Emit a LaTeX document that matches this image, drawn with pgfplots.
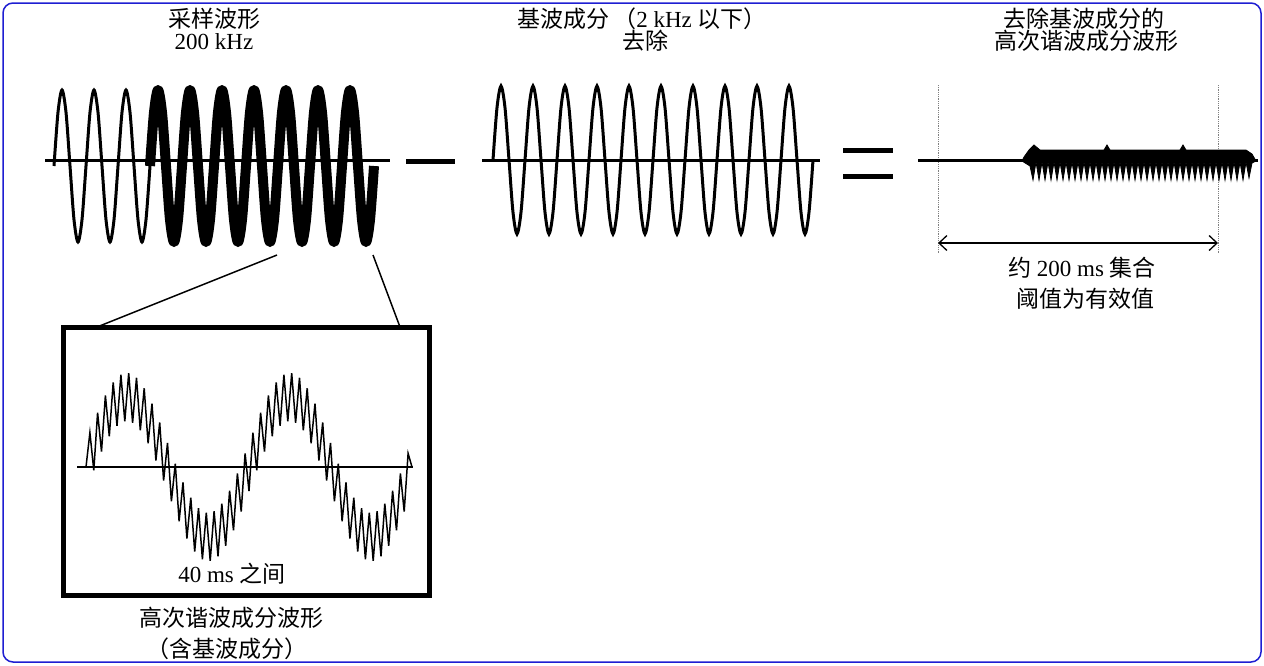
\documentclass[border=0pt]{standalone}
\usepackage{pgfplots}
\pgfplotsset{compat=1.18}
\usepackage{fontspec}
\setmainfont{Liberation Serif}
\newfontfamily\cjk{Noto Sans CJK SC}
\usetikzlibrary{arrows.meta}
\definecolor{frameblue}{RGB}{30,30,210}
\begin{document}
\begin{tikzpicture}
\begin{axis}[
  scale only axis, width=1264pt, height=665pt,
  xmin=0, xmax=1264, ymin=0, ymax=665, y dir=reverse,
  hide axis, clip=false,
]
\path (axis cs:0,0) rectangle (axis cs:1264,665);
\draw[frameblue, line width=1.5pt, rounded corners=10pt] (axis cs:3,3) rectangle (axis cs:1261,662);

% ---------- panel 1: sampled waveform ----------
\addplot[black, line width=3pt, no marks] coordinates {(45,160) (390,160)};
\addplot[black, line width=3pt, no marks, smooth] coordinates {
(54,166)(58,112.3)(62,90)(66,112.3)(70,166)(74,219.7)(78,242)(82,219.7)
(86,166)(90,112.3)(94,90)(98,112.3)(102,166)(106,219.7)(110,242)(114,219.7)
(118,166)(122,112.3)(126,90)(130,112.3)(134,166)(138,219.7)(142,242)(146,219.7)
(150,166)};
\addplot[black, line width=10pt, no marks, smooth, line join=round] coordinates {
(150,166)(154,112.3)(158,90)(162,112.3)(166,166)(170,219.7)(174,242)(178,219.7)
(182,166)(186,112.3)(190,90)(194,112.3)(198,166)(202,219.7)(206,242)(210,219.7)
(214,166)(218,112.3)(222,90)(226,112.3)(230,166)(234,219.7)(238,242)(242,219.7)
(246,166)(250,112.3)(254,90)(258,112.3)(262,166)(266,219.7)(270,242)(274,219.7)
(278,166)(282,112.3)(286,90)(290,112.3)(294,166)(298,219.7)(302,242)(306,219.7)
(310,166)(314,112.3)(318,90)(322,112.3)(326,166)(330,219.7)(334,242)(338,219.7)
(342,166)(346,112.3)(350,90)(354,112.3)(358,166)(362,219.7)(366,242)(370,219.7)
(374,166)};

% minus sign
\addplot[black, line width=5pt, no marks] coordinates {(406,161) (455,161)};

% ---------- panel 2: fundamental ----------
\addplot[black, line width=3pt, no marks] coordinates {(482,160) (820,160)};
\addplot[black, line width=3pt, no marks, smooth] coordinates {
(493,160)(497,107.7)(501,86)(505,107.7)(509,160)(513,212.3)(517,234)(521,212.3)
(525,160)(529,107.7)(533,86)(537,107.7)(541,160)(545,212.3)(549,234)(553,212.3)
(557,160)(561,107.7)(565,86)(569,107.7)(573,160)(577,212.3)(581,234)(585,212.3)
(589,160)(593,107.7)(597,86)(601,107.7)(605,160)(609,212.3)(613,234)(617,212.3)
(621,160)(625,107.7)(629,86)(633,107.7)(637,160)(641,212.3)(645,234)(649,212.3)
(653,160)(657,107.7)(661,86)(665,107.7)(669,160)(673,212.3)(677,234)(681,212.3)
(685,160)(689,107.7)(693,86)(697,107.7)(701,160)(705,212.3)(709,234)(713,212.3)
(717,160)(721,107.7)(725,86)(729,107.7)(733,160)(737,212.3)(741,234)(745,212.3)
(749,160)(753,107.7)(757,86)(761,107.7)(765,160)(769,212.3)(773,234)(777,212.3)
(781,160)(785,107.7)(789,86)(793,107.7)(797,160)(801,212.3)(805,234)(809,212.3)
(813,160)};

% equals sign
\addplot[black, line width=5pt, no marks] coordinates {(843,150) (893,150)};
\addplot[black, line width=5pt, no marks] coordinates {(843,176) (893,176)};

% ---------- panel 3: harmonic residue ----------
\draw[gray, densely dotted, line width=0.8pt] (axis cs:938,85) -- (axis cs:938,253);
\draw[gray, densely dotted, line width=0.8pt] (axis cs:1218,85) -- (axis cs:1218,253);
\addplot[black, line width=3pt, no marks] coordinates {(918,160) (1258,160)};
\addplot[black, fill=black, line width=0.8pt, no marks] coordinates {
(1022,161)(1030,166)(1033,180)(1036,162)(1039,180)(1042,162)(1045,180)(1048,162)
(1051,180)(1054,162)(1057,180)(1060,162)(1063,180)(1066,162)(1069,180)(1072,162)
(1075,180)(1078,162)(1081,180)(1084,162)(1087,180)(1090,162)(1093,180)(1096,162)
(1099,180)(1102,162)(1105,180)(1108,162)(1111,180)(1114,162)(1117,180)(1120,162)
(1123,180)(1126,162)(1129,180)(1132,162)(1135,180)(1138,162)(1141,180)(1144,162)
(1147,180)(1150,162)(1153,180)(1156,162)(1159,180)(1162,162)(1165,180)(1168,162)
(1171,180)(1174,162)(1177,180)(1180,162)(1183,180)(1186,162)(1189,180)(1192,162)
(1195,180)(1198,162)(1201,180)(1204,162)(1207,180)(1210,162)(1213,180)(1216,162)
(1219,180)(1222,162)(1225,180)(1228,162)(1231,180)(1234,162)(1237,180)(1240,162)
(1243,180)(1246,162)(1249,178)(1252,163)(1256,161)
(1252,154)(1246,150)(1186,150)(1183,145)(1180,150)(1110,150)(1107,145)(1104,150)
(1040,150)(1034,145)(1029,150)(1024,157)} -- cycle;
\draw[{Straight Barb[length=8pt,width=15pt]}-{Straight Barb[length=8pt,width=15pt]}, line width=1.3pt]
  (axis cs:938,243) -- (axis cs:1218,243);

% ---------- magnifier ----------
\draw[black, line width=1.5pt] (axis cs:277,255) -- (axis cs:97,327);
\draw[black, line width=1.5pt] (axis cs:373,255) -- (axis cs:400,327);
\draw[black, line width=5pt, fill=white] (axis cs:63,327) rectangle (axis cs:429,595);
\addplot[black, line width=1.2pt, no marks] coordinates {(77,467) (413,467)};
\addplot[black, line width=1.5pt, no marks] coordinates {
(86.0,467)(89.9,432.6)(93.8,470.4)(97.6,412.6)(101.5,451.6)(105.4,395.4)(109.3,436.3)
(113.2,382.4)(117.0,425.8)(120.9,374.8)(124.8,421.2)(128.7,373.2)(132.6,422.8)(136.5,377.8)
(140.3,430.4)(144.2,388.3)(148.1,443.4)(152.0,403.6)(155.9,460.6)(159.7,422.4)(163.6,480.6)
(167.5,443)(171.4,501.4)(175.3,463.6)(179.1,521.4)(183.0,482.4)(186.9,538.6)(190.8,497.7)
(194.7,551.6)(198.5,508.2)(202.4,559.2)(206.3,512.8)(210.2,560.8)(214.1,511.2)(218.0,556.2)
(221.8,503.6)(225.7,545.7)(229.6,490.6)(233.5,530.4)(237.4,473.4)(241.2,511.6)(245.1,453.4)
(249.0,491)(252.9,432.6)(256.8,470.4)(260.6,412.6)(264.5,451.6)(268.4,395.4)(272.3,436.3)
(276.2,382.4)(280.1,425.8)(283.9,374.8)(287.8,421.2)(291.7,373.2)(295.6,422.8)(299.5,377.8)
(303.3,430.4)(307.2,388.3)(311.1,443.4)(315.0,403.6)(318.9,460.6)(322.7,422.4)(326.6,480.6)
(330.5,443)(334.4,501.4)(338.3,463.6)(342.1,521.4)(346.0,482.4)(349.9,538.6)(353.8,497.7)
(357.7,551.6)(361.6,508.2)(365.4,559.2)(369.3,512.8)(373.2,560.8)(377.1,511.2)(381.0,556.2)
(384.8,503.6)(388.7,545.7)(392.6,490.6)(396.5,530.4)(400.4,473.4)(404.2,511.6)(408.1,453.4)
(412.0,467)};

% ---------- text ----------
\begin{scope}[every node/.style={anchor=base, inner sep=0pt, font=\fontsize{23}{28}\selectfont}]
\node at (axis cs:214,27) {\cjk 采样波形};
\node at (axis cs:214,49) {200 kHz};
\node at (axis cs:642,27) {{\cjk 基波成分\,（}2 kHz {\cjk 以下）}};
\node at (axis cs:645,49) {\cjk 去除};
\node at (axis cs:1084,27) {\cjk 去除基波成分的};
\node at (axis cs:1086,49) {\cjk 高次谐波成分波形};
\node at (axis cs:1082,276) {{\cjk 约} 200 ms {\cjk 集合}};
\node at (axis cs:1085,307) {\cjk 阈值为有效值};
\node at (axis cs:232,582) {40 ms {\cjk 之间}};
\node at (axis cs:231,626) {\cjk 高次谐波成分波形};
\node at (axis cs:227,657) {\cjk （含基波成分）};
\end{scope}
\end{axis}
\end{tikzpicture}
\end{document}
